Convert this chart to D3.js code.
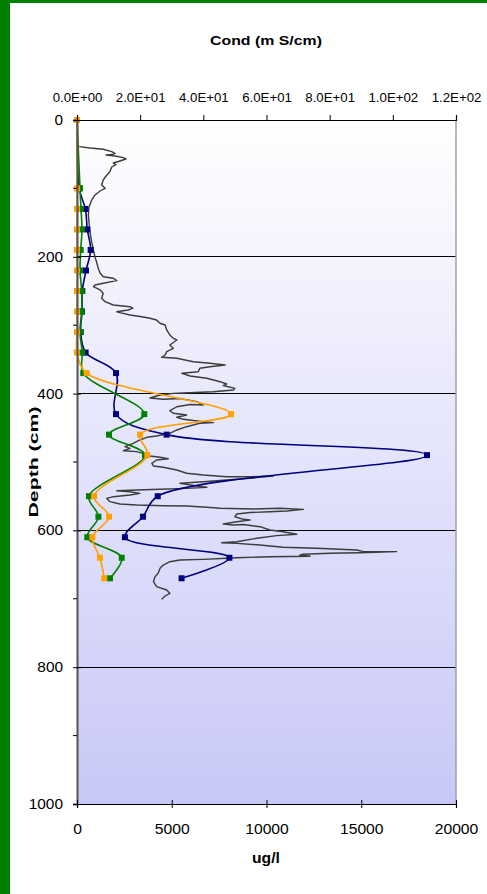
<!DOCTYPE html>
<html>
<head>
<meta charset="utf-8">
<script src="https://cdn.jsdelivr.net/npm/d3@7"></script>
<style>
  html, body { margin: 0; padding: 0; background: #ffffff; }
  svg { display: block; }
  text { font-family: "Liberation Sans", Arial, sans-serif; fill: #000; }
</style>
</head>
<body>
<svg id="chart" width="487" height="894"></svg>
<script>
// ---------------- DATA ----------------
const sampleDepths = [0,100,130,160,190,220,250,280,310,340,370,430,460,490,550,580,610,640,670];
const blueValues   = [0,120,440,545,720,475,280,265,195,455,2060,2060,4730,18470,4260,3480,2530,8040,5520];
const greenValues  = [0,160,210,265,195,160,245,245,160,280,330,3550,1690,3590,630,1130,545,2360,1740];
const orangeValues = [0,0,0,0,0,0,0,0,0,0,510,8130,3330,3710,900,1690,810,1210,1440];

// Conductivity profile (mS/cm) vs depth (cm)
const condDepths = [39.0,40.9,42.8,46.3,48.7,50.4,51.2,52.6,55.1,57.0,60.7,62.9,65.1,68.7,75.6,81.9,87.7,95.0,99.9,103.8,
  109.6,117.0,127.2,138.9,149.1,163.3,177.9,190.1,200.3,207.6,216.4,223.7,229.1,231.4,234.9,238.7,241.2,243.7,248.5,253.4,
  260.7,265.6,270.5,273.0,274.9,277.8,280.3,281.7,285.1,287.6,289.9,292.4,297.2,299.7,307.0,314.3,319.2,321.6,329.0,333.8,
  338.7,343.6,346.9,348.4,353.4,355.7,358.2,360.7,363.0,368.0,370.3,374.3,377.6,382.6,386.0,388.2,392.3,394.7,397.2,399.1,
  399.6,402.0,406.4,408.3,407.2,411.8,416.7,415.9,419.2,425.0,428.8,431.3,434.6,437.6,441.1,442.5,443.4,448.4,453.2,458.0,
  462.0,463.9,467.8,472.7,477.6,480.0,483.5,484.9,487.3,491.2,493.1,495.2,497.1,501.9,505.8,507.7,511.7,516.5,519.0,521.5,
  521.5,520.5,523.8,526.3,528.8,531.1,535.1,537.0,538.5,539.9,540.9,542.0,543.4,545.8,548.2,550.7,553.1,558.0,561.4,562.9,
  563.9,564.3,566.2,567.7,568.7,567.7,569.2,571.6,572.7,573.8,576.0,580.0,583.8,584.8,587.3,590.6,592.1,591.4,594.6,599.4,
  601.9,605.7,607.7,611.5,616.5,618.0,618.9,621.3,624.7,626.2,628.7,631.1,631.1,632.6,633.5,634.9,636.0,637.7,638.5,639.9,
  640.8,642.3,643.3,645.8,650.6,655.4,662.7,667.7,675.0,682.3,687.1,692.0,695.9,700.7];
const condValues = [0.7,4.1,8.3,11.0,12.0,11.4,9.2,12.0,14.7,15.5,13.1,11.5,12.3,11.0,10.4,9.2,8.3,7.8,8.9,7.3,
  5.7,4.65,3.8,3.6,3.8,4.1,4.65,5.2,5.7,6.2,6.7,7.3,8.3,11.5,12.6,8.3,5.7,5.2,7.3,8.3,
  7.8,8.9,11.5,16.8,17.7,16.2,12.6,13.6,16.8,20.5,23.1,25.2,26.3,27.9,28.4,29.4,30.5,31.6,29.4,30.5,
  28.4,27.9,26.8,31.6,36.8,42.1,46.9,42.1,38.9,38.4,33.2,35.8,41.1,45.3,47.4,46.3,50.0,49.5,43.2,33.7,
  30.5,26.3,23.1,27.3,32.6,37.9,40.0,35.8,31.6,29.4,30.5,34.7,31.6,33.7,40.0,43.2,38.9,34.7,31.6,29.4,
  25.2,22.1,19.9,17.8,15.2,16.8,14.7,18.9,21.0,23.1,26.3,28.9,25.2,23.7,24.2,27.3,31.6,34.7,40.0,47.4,
  54.8,62.2,54.8,47.4,40.0,32.6,37.9,41.1,34.7,26.3,18.9,12.6,16.8,19.9,16.8,11.5,9.4,10.4,13.6,18.9,
  27.3,34.7,41.1,45.3,55.8,64.3,71.7,66.4,61.1,54.8,50.6,50.0,52.7,54.8,50.6,46.3,49.5,52.7,57.9,61.1,
  65.3,69.6,63.2,56.9,50.6,45.8,50.6,57.9,65.3,75.9,88.6,90.7,101.2,89.6,80.1,71.7,70.6,73.8,61.1,50.6,
  47.4,40.0,32.6,29.4,27.3,26.3,25.7,24.7,24.2,25.2,28.4,29.4,27.9,26.8];

const concTicks  = [0,5000,10000,15000,20000];
const condTicks  = [0,20,40,60,80,100,120];
const depthTicks = [0,200,400,600,800,1000];
const depthMinorTicks = [100,300,500,700,900];
const gridDepths = [200,400,600,800];

const seriesList = [
  {name: "blue",   values: blueValues,   color: "#000080"},
  {name: "green",  values: greenValues,  color: "#008000"},
  {name: "orange", values: orangeValues, color: "#FFA000"}
];

// ---------------- LAYOUT ----------------
const svg = d3.select("#chart");
const L = 77, R = 456, T = 120, B = 804;
const x  = d3.scaleLinear().domain([0, 20000]).range([L, R]);
const xc = d3.scaleLinear().domain([0, 120]).range([L, R]);
const y  = d3.scaleLinear().domain([0, 1000]).range([T, B]);
const FONT = '"Liberation Sans", Arial, sans-serif';

function stretch(sel, k) {
  sel.each(function() {
    const w = this.getComputedTextLength();
    this.setAttribute("textLength", w * k);
    this.setAttribute("lengthAdjust", "spacingAndGlyphs");
  });
}

// green frame
svg.append("rect").attr("x", 0).attr("y", 0).attr("width", 487).attr("height", 3).attr("fill", "#008000");
svg.append("rect").attr("x", 0).attr("y", 0).attr("width", 10).attr("height", 894).attr("fill", "#008000");

// plot background gradient
const defs = svg.append("defs");
const grad = defs.append("linearGradient").attr("id", "bg").attr("x1", 0).attr("y1", 0).attr("x2", 0).attr("y2", 1);
grad.append("stop").attr("offset", "0%").attr("stop-color", "#ffffff");
grad.append("stop").attr("offset", "100%").attr("stop-color", "#c8c8f8");
svg.append("rect").attr("x", L).attr("y", T).attr("width", R - L).attr("height", B - T).attr("fill", "url(#bg)");

// gridlines
svg.append("g").selectAll("line").data(gridDepths).join("line")
  .attr("x1", L).attr("x2", R).attr("y1", d => y(d)).attr("y2", d => y(d))
  .attr("stroke", "#000").attr("stroke-width", 1).attr("shape-rendering", "crispEdges");

// right border
svg.append("line").attr("x1", R).attr("x2", R).attr("y1", T).attr("y2", B)
  .attr("stroke", "#a0a0a0").attr("stroke-width", 1.5);

// ---------------- SERIES ----------------
const condLine = d3.line().x(d => xc(d[1])).y(d => y(d[0])).curve(d3.curveLinear);
svg.append("path")
  .datum(condDepths.map((d, i) => [d, condValues[i]]))
  .attr("d", condLine).attr("fill", "none").attr("stroke", "#3c3c3c").attr("stroke-width", 1.4)
  .attr("stroke-linejoin", "round");

const sLine = d3.line().x(d => x(d[1])).y(d => y(d[0])).curve(d3.curveCatmullRom.alpha(0.5));
seriesList.forEach(s => {
  const pts = sampleDepths.map((d, i) => [d, s.values[i]]);
  const g = svg.append("g");
  g.append("path").datum(pts).attr("d", sLine).attr("fill", "none")
    .attr("stroke", s.color).attr("stroke-width", 1.6);
  g.selectAll("rect").data(pts).join("rect")
    .attr("x", d => x(d[1]) - 3).attr("y", d => y(d[0]) - 3)
    .attr("width", 6).attr("height", 6).attr("fill", s.color);
});

// ---------------- AXES ----------------
function styleAxisGroup(g) {
  g.attr("font-family", FONT).attr("font-size", null);
  g.selectAll("text").attr("font-weight", "normal").attr("fill", "#000");
}

// left axis
const leftAxis = svg.append("g").attr("transform", `translate(${L},0)`)
  .call(d3.axisLeft(y).tickValues(depthTicks).tickSize(4).tickFormat(d3.format("d")));
styleAxisGroup(leftAxis);
leftAxis.select(".domain").attr("stroke", "#555").attr("stroke-width", 2);
leftAxis.selectAll(".tick line").attr("x1", 4).attr("x2", -4).attr("stroke", "#000");
leftAxis.selectAll(".tick text").attr("font-size", 14).attr("x", -14).call(stretch, 1.1);
svg.append("g").selectAll("line").data(depthMinorTicks).join("line")
  .attr("x1", L - 4).attr("x2", L).attr("y1", d => y(d)).attr("y2", d => y(d))
  .attr("stroke", "#000");

// bottom axis
const bottomAxis = svg.append("g").attr("transform", `translate(0,${B})`)
  .call(d3.axisBottom(x).tickValues(concTicks).tickSize(4).tickFormat(d3.format("d")));
styleAxisGroup(bottomAxis);
bottomAxis.select(".domain").attr("stroke", "#000").attr("stroke-width", 1.2);
bottomAxis.selectAll(".tick line").attr("y1", -4).attr("y2", 4).attr("stroke", "#000");
bottomAxis.selectAll(".tick text").attr("font-size", 14).attr("y", 30).attr("dy", 0).call(stretch, 1.12);

// top axis (conductivity)
const fmtE = d => {
  const [m, e] = d.toExponential(1).split("e");
  const n = Math.abs(+e);
  return m.toUpperCase() + "E" + (+e < 0 ? "-" : "+") + (n < 10 ? "0" + n : n);
};
const topAxis = svg.append("g").attr("transform", `translate(0,${T})`)
  .call(d3.axisTop(xc).tickValues(condTicks).tickSize(5).tickFormat(fmtE));
styleAxisGroup(topAxis);
topAxis.select(".domain").attr("stroke", "#000").attr("stroke-width", 1.2);
topAxis.selectAll(".tick line").attr("stroke", "#000");
topAxis.selectAll(".tick text").attr("font-size", 13).attr("y", -18.5).attr("dy", 0).call(stretch, 1.02);

// titles
svg.append("text").attr("x", 266).attr("y", 45).attr("text-anchor", "middle")
  .attr("font-size", 13).attr("font-weight", "bold").text("Cond (m S/cm)").call(stretch, 1.22);
svg.append("text").attr("x", 266).attr("y", 863).attr("text-anchor", "middle")
  .attr("font-size", 14).attr("font-weight", "bold").text("ug/l").call(stretch, 1.12);
svg.append("text").attr("transform", "translate(37.5,462) rotate(-90)").attr("text-anchor", "middle")
  .attr("font-size", 12.5).attr("font-weight", "bold").text("Depth (cm)").call(stretch, 1.7);
</script>
</body>
</html>
